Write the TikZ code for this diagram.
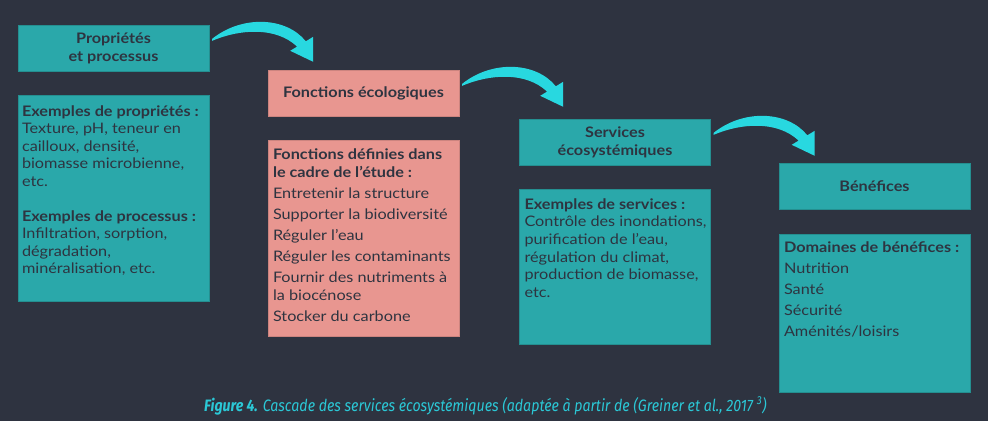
\documentclass[tikz,border=0pt]{standalone}
\usepackage{fontspec}
\setmainfont[FakeStretch=1.12]{Lato}
\newfontfamily\capfont[FakeStretch=0.86]{Fira Sans}
\usetikzlibrary{positioning,calc}

\definecolor{bgdark}{HTML}{2E3340}
\definecolor{tealbox}{HTML}{2AA8AA}
\definecolor{pinkbox}{HTML}{E89690}
\definecolor{inkdark}{HTML}{2E3440}
\definecolor{swooshcyan}{HTML}{28D8E0}
\definecolor{capcyan}{HTML}{2BC8D6}

\begin{document}
\begin{tikzpicture}[x=1pt,y=1pt]

        \def\d{24pt}

        % box looks and the curved cascade arrow
        \tikzset{
            titlebox/.style={minimum width=191pt, minimum height=46pt,
                inner sep=0pt, align=center, text=inkdark,
                font=\fontsize{14.5}{18}\selectfont\bfseries},
            detailbox/.style={minimum width=191pt, inner sep=0pt},
            bodytext/.style={anchor=north west, inner sep=0pt, align=left,
                text=inkdark, font=\fontsize{14.5}{17.5}\selectfont},
            swoosh/.pic={
                \fill[swooshcyan] (0,0) .. controls (30,24) and (74,22) .. (93.6,-2.5)
                    -- (101,2) -- (101,-23) -- (78,-12) -- (84.9,-7.8)
                    .. controls (64,12) and (28,10) .. (0,-2) -- cycle;
            }
        }

        % background
        \fill[bgdark] (0,0) rectangle (988,421);

        % title boxes, one step down the cascade each
        \begin{scope}
            \node[titlebox, fill=tealbox, draw=tealbox!85!black] (prop) at (113.5,373)
            {Propriétés\\et processus};
            \node[titlebox, fill=pinkbox, draw=pinkbox!88!black] (fonc) at (363.5,328)
            {Fonctions écologiques};
            \node[titlebox, fill=tealbox, draw=tealbox!85!black] (serv) at (615,279)
            {Services\\écosystémiques};
            \node[titlebox, fill=tealbox, draw=tealbox!85!black] (bene) at (874.5,235)
            {Bénéfices};
        \end{scope}

        % detail boxes below the titles
        \begin{scope}
            \node[detailbox, fill=tealbox, draw=tealbox!85!black, minimum height=206pt,
                below=\d of prop] (propdet) {};
            \node[detailbox, fill=pinkbox, draw=pinkbox!88!black, minimum height=196pt,
                below=\d of fonc] (foncdet) {};
            \node[detailbox, fill=tealbox, draw=tealbox!85!black, minimum height=155pt,
                below=\d of serv] (servdet) {};
            \node[detailbox, fill=tealbox, draw=tealbox!85!black, minimum height=158pt,
                below=25pt of bene] (benedet) {};
        \end{scope}

        % texts of the detail boxes
        \node[bodytext] (proptxt) at ([shift={(4pt,-10pt)}]propdet.north west)
        {\textbf{Exemples de propriétés :}\\Texture, pH, teneur en\\cailloux, densité,\\
         biomasse microbienne,\\etc.\\[17.5pt]
         \textbf{Exemples de processus :}\\Infiltration, sorption,\\dégradation,\\
         minéralisation, etc.};
        \node[bodytext, font=\fontsize{14.5}{18}\selectfont] (fonctxt)
            at ([shift={(5pt,-8pt)}]foncdet.north west)
        {\textbf{Fonctions définies dans}\\\textbf{le cadre de l'étude :}\\[3pt]
         Entretenir la structure\\[3pt]Supporter la biodiversité\\[3pt]Réguler l'eau\\[3pt]
         Réguler les contaminants\\[3pt]Fournir des nutriments à\\la biocénose\\[3pt]
         Stocker du carbone};
        \node[bodytext, font=\fontsize{14.5}{17.7}\selectfont] (servtxt)
            at ([shift={(5pt,-9pt)}]servdet.north west)
        {\textbf{Exemples de services :}\\Contrôle des inondations,\\purification de l'eau,\\
         régulation du climat,\\production de biomasse,\\etc.};
        \node[bodytext, font=\fontsize{14.5}{21}\selectfont] (benetxt)
            at ([shift={(5pt,-7pt)}]benedet.north west)
        {\textbf{Domaines de bénéfices :}\\Nutrition\\Santé\\Sécurité\\Aménités/loisirs};

        % cascade arrows
        \pic at ($(prop.north east)+(3,-14)$) {swoosh};
        \pic at ($(fonc.north east)+(3,-14)$) {swoosh};
        \pic at ($(serv.north east)+(3,-14)$) {swoosh};

        % caption
        \node[anchor=base west, inner sep=0pt, text=capcyan,
            font=\capfont\fontsize{16.5}{18}\selectfont\itshape] (caption) at (204,10)
        {\textbf{Figure 4.} Cascade des services écosystémiques (adaptée à partir de (Greiner et al., 2017 \textsuperscript{3})};

\end{tikzpicture}
\end{document}
